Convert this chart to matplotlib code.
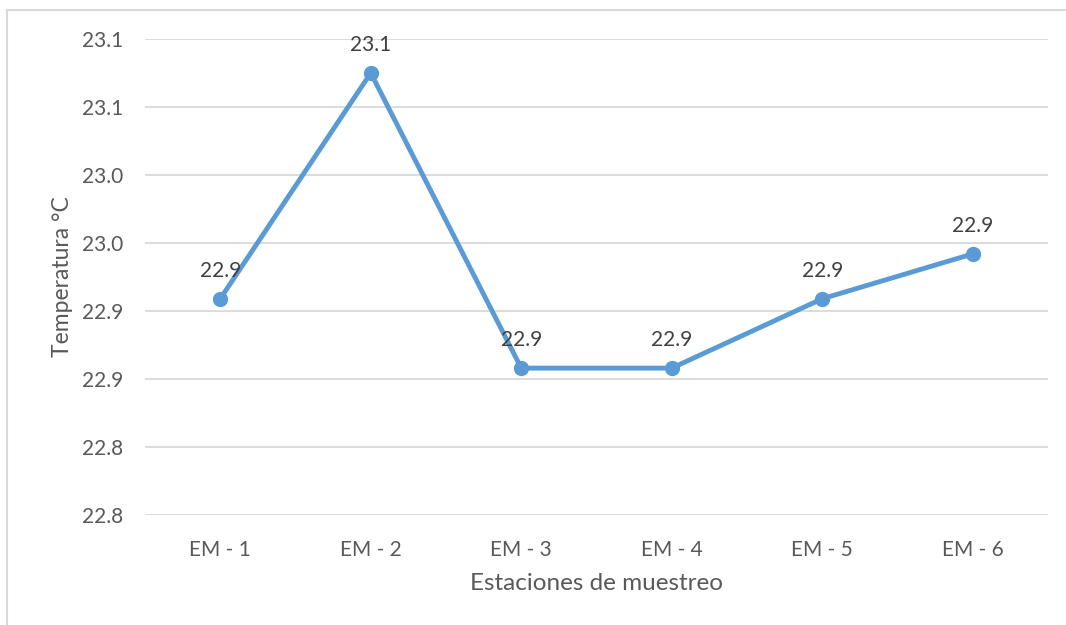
import matplotlib.pyplot as plt
from matplotlib.lines import Line2D
from matplotlib.ticker import FuncFormatter, MultipleLocator
from decimal import Decimal, ROUND_HALF_UP

stations = ["EM - 1", "EM - 2", "EM - 3", "EM - 4", "EM - 5", "EM - 6"]
temperature = [22.909, 23.075, 22.858, 22.858, 22.909, 22.942]

plt.rcParams['font.family'] = ['Lato', 'DejaVu Sans']


def one_decimal(v, pos=None):
    d = Decimal(str(round(float(v), 6))).quantize(Decimal("0.1"), rounding=ROUND_HALF_UP)
    return f"{d}"


fig = plt.figure(figsize=(10.66, 6.25), dpi=100)
ax = fig.add_axes([145 / 1066, 1 - 515 / 625, (1048 - 145) / 1066, (515 - 39) / 625])

x = list(range(len(stations)))
ax.plot(x, temperature, color="#5B9BD5", lw=3.5, marker="o", markersize=10,
        solid_capstyle="round", zorder=3)

for xi, v in zip(x, temperature):
    ax.annotate(one_decimal(v), (xi, v), xytext=(0, 13), textcoords="offset points",
                ha="center", va="bottom", fontsize=15, color="#404040")

ax.set_xlim(-0.5, len(stations) - 0.5)
ax.set_ylim(22.75, 23.10)
ax.yaxis.set_major_locator(MultipleLocator(0.05))
ax.yaxis.set_major_formatter(FuncFormatter(one_decimal))
ax.set_xticks(x)
ax.set_xticklabels(stations)

ax.grid(axis="y", color="#D9D9D9", lw=1.3)
ax.set_axisbelow(True)
for s in ax.spines.values():
    s.set_visible(False)
ax.tick_params(length=0, labelsize=15, labelcolor="#595959")
ax.tick_params(axis="y", pad=16)
ax.tick_params(axis="x", pad=18)

ax.set_xlabel("Estaciones de muestreo", fontsize=17.5, color="#595959", labelpad=9)
ax.set_ylabel("Temperatura °C", fontsize=16.5, color="#595959", labelpad=6)

# chart frame
fig.add_artist(Line2D([7 / 1066, 1.0], [1 - 10 / 625, 1 - 10 / 625],
                      transform=fig.transFigure, color="#D9D9D9", lw=1.5))
fig.add_artist(Line2D([7 / 1066, 7 / 1066], [0.0, 1 - 10 / 625],
                      transform=fig.transFigure, color="#D9D9D9", lw=1.5))

fig.savefig("out.png", dpi=100, facecolor="white")
